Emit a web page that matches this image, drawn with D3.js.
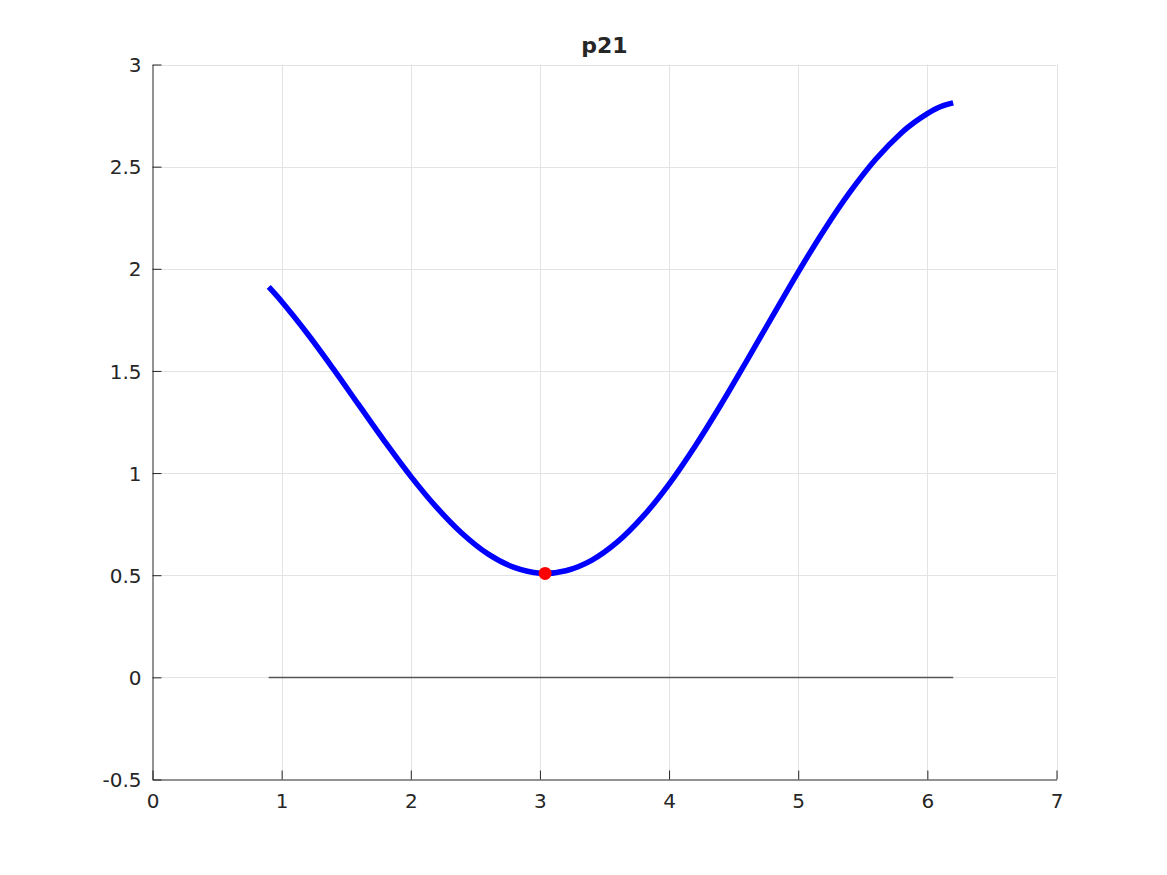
<!DOCTYPE html>
<html>
<head>
<meta charset="utf-8">
<script src="https://cdn.jsdelivr.net/npm/d3@7/dist/d3.min.js"></script>
<style>
  html, body { margin: 0; padding: 0; background: #fff; }
  svg { display: block; }
  text { font-family: "DejaVu Sans", sans-serif; fill: #262626; }
</style>
</head>
<body>
<svg id="chart" width="1167" height="875"></svg>
<script>
// ---- data ----
const titleText = "p21";
const curveX = [0.9, 1.0, 1.2, 1.4, 1.6, 1.8, 2.0, 2.2, 2.4, 2.6, 2.8, 3.0, 3.2, 3.4, 3.6, 3.8, 4.0, 4.2, 4.4, 4.6, 4.8, 5.0, 5.2, 5.4, 5.6, 5.8, 5.9, 6.0, 6.1, 6.2];
const curveY = [1.911, 1.840, 1.682, 1.510, 1.331, 1.153, 0.984, 0.832, 0.703, 0.603, 0.538, 0.510, 0.522, 0.573, 0.663, 0.789, 0.946, 1.130, 1.333, 1.548, 1.767, 1.984, 2.189, 2.375, 2.536, 2.666, 2.717, 2.760, 2.793, 2.812];
const minPoint = [3.04, 0.509];
const baseX = [0.9, 6.2];
const baseY = [0, 0];
const xTicks = [0, 1, 2, 3, 4, 5, 6, 7];
const yTicks = [-0.5, 0, 0.5, 1, 1.5, 2, 2.5, 3];
const xDomain = [0, 7];
const yDomain = [-0.5, 3];

// ---- layout ----
const svg = d3.select("#chart");
const pLeft = 152.5, pRight = 1056.5, pTop = 64.5, pBottom = 779.5;
const x = d3.scaleLinear().domain(xDomain).range([pLeft, pRight]);
const y = d3.scaleLinear().domain(yDomain).range([pBottom, pTop]);
const fmt = d => String(d);

// grid
const grid = svg.append("g");
grid.selectAll("line.gx").data(xTicks.filter(d => d !== xDomain[0])).enter().append("line")
  .attr("x1", d => Math.round(x(d)) + 0.5).attr("x2", d => Math.round(x(d)) + 0.5)
  .attr("y1", pTop).attr("y2", pBottom)
  .attr("stroke", "#e3e3e3").attr("stroke-width", 1);
grid.selectAll("line.gy").data(yTicks.filter(d => d !== yDomain[0])).enter().append("line")
  .attr("y1", d => Math.round(y(d)) + 0.5).attr("y2", d => Math.round(y(d)) + 0.5)
  .attr("x1", pLeft).attr("x2", pRight)
  .attr("stroke", "#e3e3e3").attr("stroke-width", 1);

// axes
const xAxis = d3.axisBottom(x).tickValues(xTicks).tickFormat(fmt).tickSizeInner(-9).tickSizeOuter(0).tickPadding(14);
const yAxis = d3.axisLeft(y).tickValues(yTicks).tickFormat(fmt).tickSizeInner(-9).tickSizeOuter(0).tickPadding(11);
const gx = svg.append("g").attr("transform", `translate(0,${pBottom})`).call(xAxis);
const gy = svg.append("g").attr("transform", `translate(${pLeft},0)`).call(yAxis);
[gx, gy].forEach(g => {
  g.select(".domain").attr("stroke", "#262626").attr("stroke-width", 1);
  g.selectAll(".tick line").attr("stroke", "#262626").attr("stroke-width", 1);
  g.selectAll(".tick text").attr("font-size", 20).attr("font-family", "DejaVu Sans, sans-serif").attr("fill", "#262626");
});
gy.selectAll(".tick text").attr("dy", "0.36em");
gx.selectAll(".tick text").attr("dy", "0.72em");

// baseline at zero
const baseData = baseX.map((d, i) => [d, baseY[i]]);
svg.append("path").datum(baseData)
  .attr("d", d3.line().x(d => x(d[0])).y(d => Math.round(y(d[1])) + 0.5))
  .attr("fill", "none").attr("stroke", "#555555").attr("stroke-width", 1.3);

// curve
const curveData = curveX.map((d, i) => [d, curveY[i]]);
svg.append("path").datum(curveData)
  .attr("d", d3.line().x(d => x(d[0])).y(d => y(d[1])).curve(d3.curveCatmullRom.alpha(0.5)))
  .attr("fill", "none").attr("stroke", "#0000ff").attr("stroke-width", 5.5)
  .attr("stroke-linejoin", "round");

// min point
svg.append("circle")
  .attr("cx", x(minPoint[0])).attr("cy", y(minPoint[1])).attr("r", 6.5)
  .attr("fill", "#ff0000");

// title
svg.append("text").attr("x", (pLeft + pRight) / 2).attr("y", 53)
  .attr("text-anchor", "middle").attr("font-size", 22).attr("font-weight", "bold")
  .attr("fill", "#000").text(titleText);
</script>
</body>
</html>
